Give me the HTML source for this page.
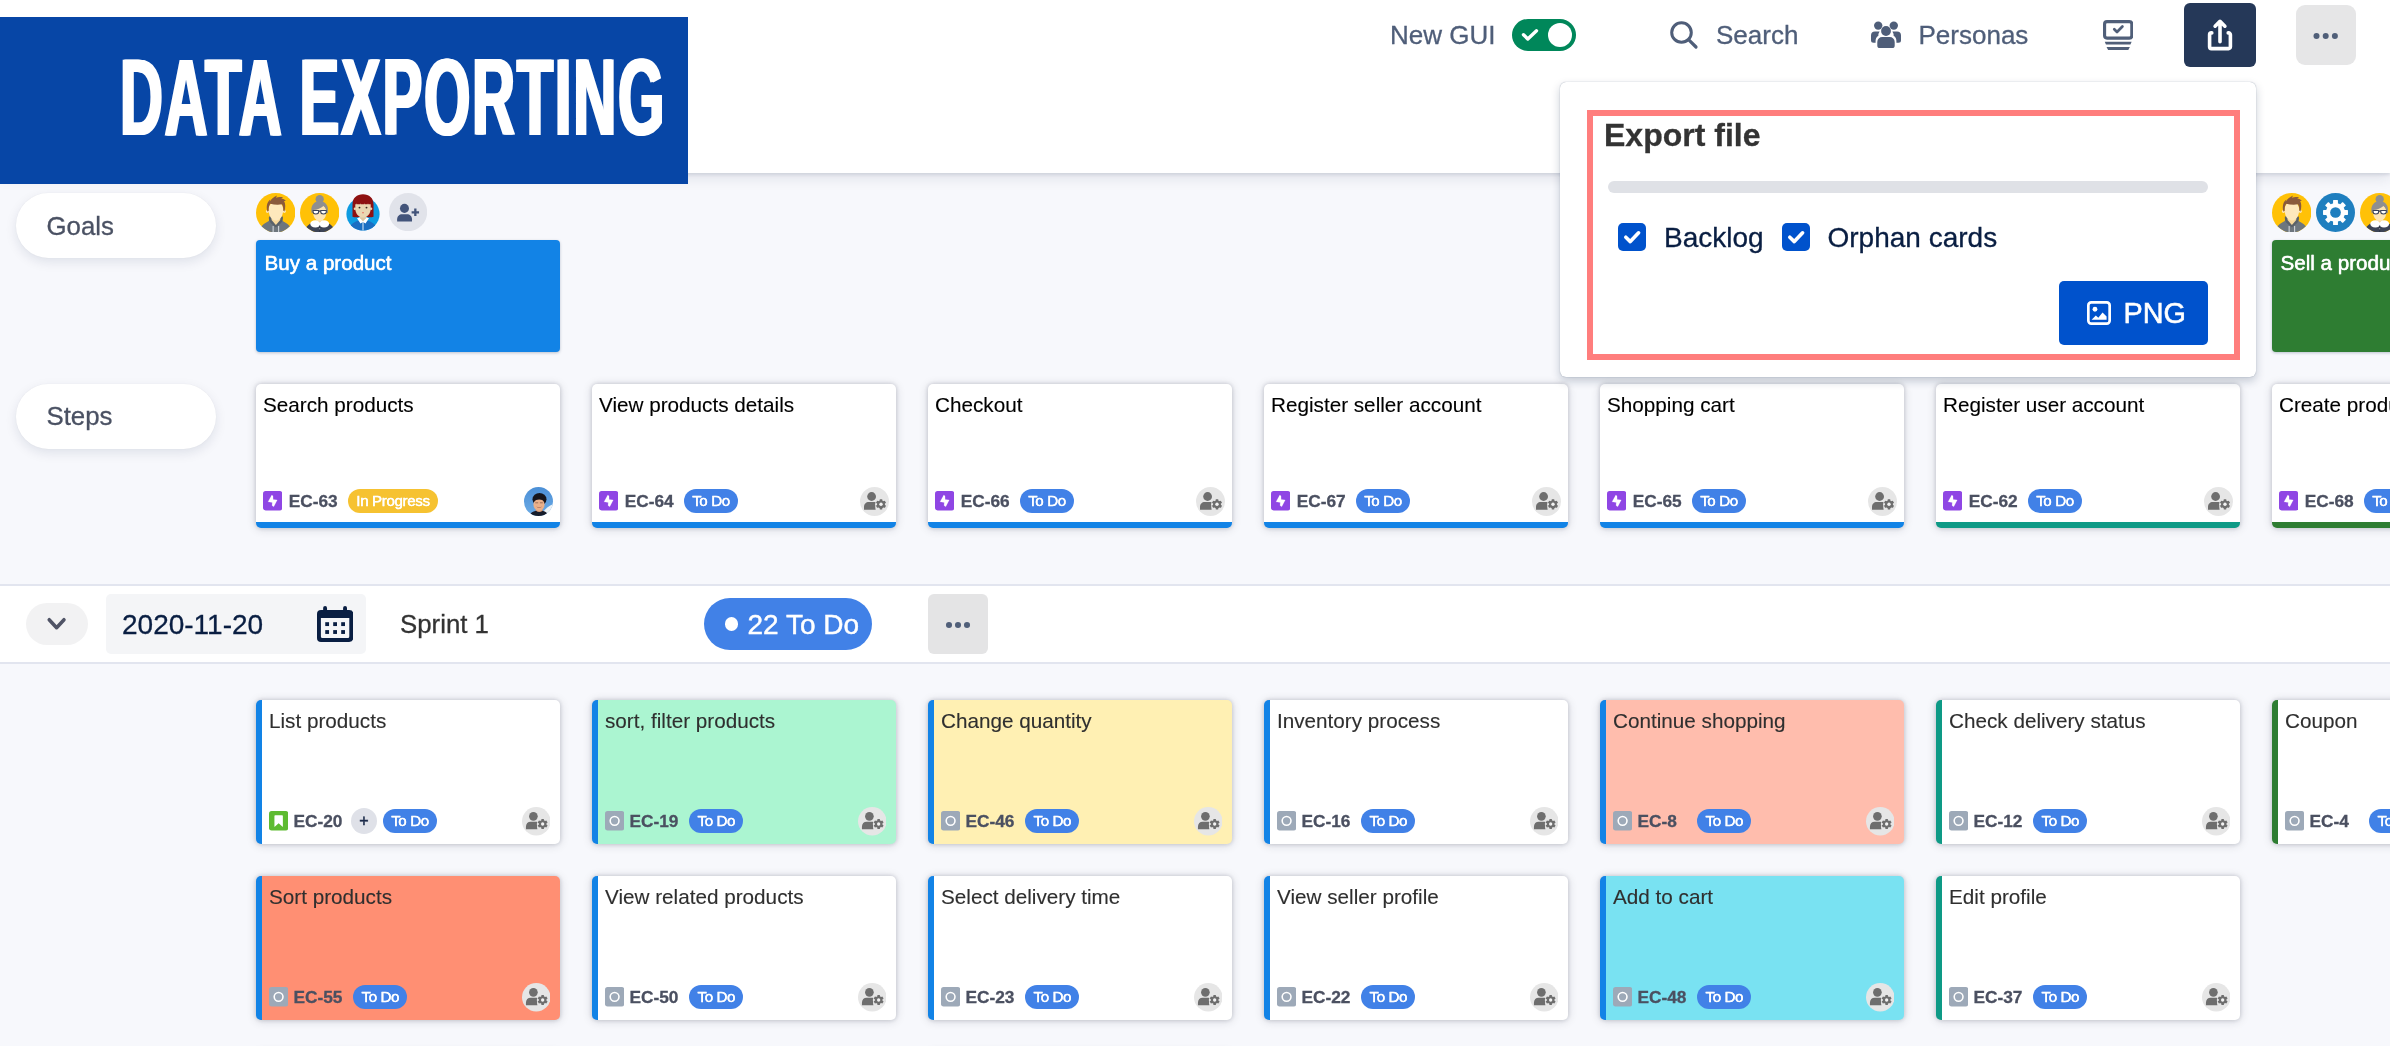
<!DOCTYPE html>
<html lang="en"><head><meta charset="utf-8"><title>Data Exporting</title>
<style>
*{box-sizing:border-box;margin:0;padding:0}
html,body{width:2390px;height:1046px;overflow:hidden}
body{position:relative;background:#F7F8FC;-webkit-font-smoothing:antialiased;-webkit-text-stroke:.3px;font-family:"Liberation Sans",sans-serif;color:#172B4D}
.abs{position:absolute;display:block}
/* header */
.hdr{position:absolute;left:0;top:0;width:2390px;height:173px;background:#fff;box-shadow:0 2px 3px rgba(9,30,66,.10),0 6px 12px rgba(9,30,66,.09)}
.banner{position:absolute;left:0;top:17px;width:687.5px;height:167px;background:#0746A6;overflow:hidden}
.banner span{position:absolute;left:120px;top:27px;font-weight:bold;font-size:108.500px;line-height:108.500px;color:#fff;white-space:nowrap;transform-origin:0 0;transform:scale(.5464,1);text-shadow:2.500px 0 0 #fff,-2.500px 0 0 #fff;letter-spacing:3.500px;-webkit-text-stroke:0}
.hx{position:absolute;font-size:26px;line-height:30px;color:#4F5E79;white-space:nowrap}
.toggle{position:absolute;left:1512px;top:19px;width:64px;height:32px;border-radius:16px;background:#00875A}
.toggle i{position:absolute;left:36px;top:4px;width:24px;height:24px;border-radius:50%;background:#fff}
.btn-share{position:absolute;left:2184px;top:3px;width:72px;height:64px;border-radius:6px;background:#253858}
.btn-more{position:absolute;left:2296px;top:5px;width:60px;height:60px;border-radius:9px;background:#E6E6E7}
/* popup */
.pop{position:absolute;left:1560px;top:82px;width:696px;height:295px;background:#fff;border-radius:6px;box-shadow:0 0 1px rgba(9,30,66,.45),0 4px 10px rgba(9,30,66,.22)}
.red{position:absolute;left:1587.200px;top:110.200px;width:652.800px;height:249.500px;border:6.400px solid #FF7E7D}
.pop-h{position:absolute;left:1604px;top:116.500px;font-size:32px;line-height:36px;font-weight:bold;color:#333}
.prog-bar{position:absolute;left:1607.5px;top:181px;width:600.5px;height:12px;border-radius:6px;background:#DFE1E6}
.cb{position:absolute;top:223px;width:28px;height:28px;border-radius:5px;background:#0052CC}
.cbl{position:absolute;top:222px;font-size:28px;line-height:32px;color:#091E42;white-space:nowrap}
.png{position:absolute;left:2059px;top:281px;width:149px;height:64px;border-radius:5px;background:#0052CC}
.png span{position:absolute;left:64.500px;top:15.500px;font-size:28.800px;line-height:32px;color:#fff;-webkit-text-stroke:.55px}
/* lanes */
.lane{position:absolute;left:16px;width:200px;height:65px;border-radius:33px;background:#fff;box-shadow:0 4px 12px rgba(9,30,66,.10),0 0 2px rgba(9,30,66,.06);font-size:25.800px;line-height:66px;padding-left:30.500px;color:#4A5163}
.goal{position:absolute;top:240px;width:304px;height:112px;border-radius:4px;color:#fff;font-size:20.600px;line-height:24px;padding:11px 0 0 8.500px;white-space:nowrap;overflow:hidden;box-shadow:0 1px 3px rgba(9,30,66,.25);text-shadow:0 0 .8px #fff;-webkit-text-stroke:.35px}
/* cards */
.card{position:absolute;width:304px;height:144px;border-radius:5px;background:#fff;box-shadow:0 0 4px rgba(30,35,55,.18),0 1px 10px rgba(30,35,55,.17)}
.card .t{position:absolute;top:9px;font-size:20.700px;line-height:24px;white-space:nowrap;-webkit-text-stroke:.12px}
.card .f{position:absolute;left:0;right:0;height:30px}
.step{top:384px;border-bottom:6px solid #1283E6}
.step .t{left:7px;color:#000}
.step .f{top:102px}
.story{border-left:6px solid #1283E6}
.story .t{left:7px;color:#2F2F2F}
.story .f{top:106px}
.ti{position:absolute;top:5.300px;width:19.300px;height:19.500px}
.step .ti{left:7px}
.story .ti{left:7px}
.k{position:absolute;top:4px;font-size:17.300px;line-height:22px;font-weight:bold;color:#4B5061;white-space:nowrap}
.step .k{left:32.700px}
.story .k{left:31.400px}
.pill{position:absolute;top:3px;height:24px;border-radius:12px;color:#fff;font-size:15.200px;line-height:23.600px;text-align:center;white-space:nowrap;text-shadow:0 0 .5px #fff;letter-spacing:-.4px}
.todo{background:#4181E7;width:54px}
.prog{background:#F6C231;width:90px}
.step .pill{left:92px}
.story .pill{left:91.300px}
.plus{position:absolute;left:88.900px;top:2px;width:26px;height:26px;border-radius:50%;background:#DFE1E8;color:#1C2B4A;font-size:16px;line-height:25.200px;text-align:center;-webkit-text-stroke:.5px}
.plus ~ .pill{left:121px}
.ua{position:absolute;width:29px;height:29px}
.step .ua{left:268px;top:.5px}
.story .ua{left:259.800px;top:1px;width:28.500px;height:28.500px}
/* sprint row */
.sprint{position:absolute;left:0;top:584px;width:2390px;height:80px;background:#fff;border-top:2px solid #E2E5EF;border-bottom:2px solid #E2E5EF}
.chev{position:absolute;left:26px;top:603px;width:62px;height:42px;border-radius:21px;background:#F2F2F3}
.date{position:absolute;left:106px;top:594px;width:260px;height:60px;border-radius:5px;background:#F4F5F7}
.date span{position:absolute;left:16px;top:15px;font-size:28px;line-height:32px;color:#091E42}
.sname{position:absolute;left:400px;top:608px;font-size:25.800px;line-height:32px;color:#333}
.cnt{position:absolute;left:704px;top:598px;width:168px;height:52px;border-radius:26px;background:#4181E7}
.cnt i{position:absolute;left:20.700px;top:19.300px;width:13.600px;height:13.600px;border-radius:50%;background:#fff}
.cnt span{position:absolute;left:43.500px;top:11px;-webkit-text-stroke:.45px;font-size:28px;line-height:32px;color:#fff;white-space:nowrap}
.smore{position:absolute;left:928px;top:594px;width:60px;height:60px;border-radius:6px;background:#E4E4E5}
#root{position:absolute;left:0;top:0;width:2390px;height:1046px;will-change:transform;overflow:hidden}
</style></head><body><div id="root">
<div class="lane" style="top:193px">Goals</div>
<div class="lane" style="top:384px;line-height:64px">Steps</div>
<svg class="abs" style="left:255.9px;top:192.7px" width="39.4" height="39.4" viewBox="0 0 40 40"><defs><clipPath id="cb1"><circle cx="20" cy="20" r="20"/></clipPath></defs><g clip-path="url(#cb1)"><rect width="40" height="40" fill="#FFC107"/><path d="M3 40c1-6 5-9 10-11.500l1.500-5.500h11l1.500 5.500c5 2.500 9 5.500 10 11.500z" fill="#6D767E"/><path d="M13.200 23.500c-.6 3 .3 5.500 2.300 7.500l4.700 4 4.700-4c2-2 2.900-4.500 2.300-7.500l-2.200 1.500-4.800 5.500-4.800-5.500z" fill="#596169"/><path d="M15.800 22h8.800v5.500l-4.400 5-4.400-5z" fill="#F8D99C"/><path d="M17.400 33.500v6.500M23 33.500v6.500" stroke="#E9ECEF" stroke-width=".9" fill="none"/><circle cx="11.600" cy="18.800" r="1.500" fill="#FDE7B8"/><circle cx="28.800" cy="18.800" r="1.500" fill="#FDE7B8"/><path d="M12.800 17c0-5 3-7.500 7.400-7.500s7.400 2.500 7.400 7.500c0 6.500-3.300 10.800-7.400 10.800S12.800 23.500 12.800 17z" fill="#FEE8BC"/><path d="M11.500 18.800c-1.300-5.600-.3-9.800 3-12.300L13.800 9c1.500-2.700 4-5 7.600-6.500l-1.200 2.300c2.500-.8 5-.8 7.300-.2l-2 1.100c2.200.2 3.700 1 4.800 2.300l-1.800.2c1.600 2.600 1.500 6.600.4 10.600-.6-.2-1-.5-1.200-1 .1-2.600-.3-4.700-1.400-6.300-3 .8-7.800.6-11.800-.6-1.300 1.800-1.800 4.200-1.600 7-.3.500-.7.800-1.400.9z" fill="#8A5A3C"/></g></svg><svg class="abs" style="left:300px;top:192.7px" width="39.4" height="39.4" viewBox="0 0 40 40"><defs><clipPath id="cg2"><circle cx="20" cy="20" r="20"/></clipPath></defs><g clip-path="url(#cg2)"><rect width="40" height="40" fill="#FFC107"/><path d="M4.500 40c1-6 5-9.300 11-10.700h9c6 1.400 10 4.700 11 10.700z" fill="#3D4455"/><path d="M16.800 24h6.400v5l-3.200 3.500-3.200-3.500z" fill="#F6D9A0"/><ellipse cx="15.600" cy="31.300" rx="5.200" ry="3.700" fill="#fff"/><ellipse cx="24.400" cy="31.300" rx="5.200" ry="3.700" fill="#fff"/><path d="M17.200 27.200l2.800 3 2.800-3v-1h-5.600z" fill="#F6D9A0"/><path d="M20 33v7" stroke="#2C3242" stroke-width="1" fill="none"/><circle cx="20" cy="36.300" r=".55" fill="#C9CDD6"/><path d="M13.300 19.500c0-5 2.700-7.800 6.700-7.800s6.700 2.800 6.700 7.800c0 5.200-3 8.700-6.700 8.700s-6.700-3.500-6.700-8.700z" fill="#FCE4B4"/><circle cx="20" cy="6.300" r="4.200" fill="#8F8F8F"/><path d="M11.800 20.500C10.500 13 14 8.500 20 8.500s9.500 4.500 8.200 12c-.5-.2-.8-.4-1.100-.8-.2-2.800-1.300-5-3.300-6.600-2.500 2.400-6.200 3.900-10.600 4.200-.2.800-.3 1.600-.3 2.500-.3.400-.6.600-1.100.7z" fill="#8F8F8F"/><g fill="#fff" stroke="#39425A" stroke-width="1.100"><path d="M13.300 17.700h5.600v1.600c0 1.300-1 2-2.800 2s-2.800-.7-2.800-2z"/><path d="M21.100 17.700h5.600v1.600c0 1.300-1 2-2.800 2s-2.800-.7-2.800-2z"/><path d="M18.900 18.400h2.200" fill="none"/></g></g></svg><svg class="abs" style="left:344.9px;top:194px" width="36" height="38" viewBox="0 0 36 38"><defs><clipPath id="cw3"><circle cx="18" cy="20" r="16.600"/></clipPath></defs><circle cx="18" cy="20" r="16.600" fill="#0D9BE1"/><path d="M7.500 22.800V10.500C7.500 4 11.800.3 18 .3S28.500 4 28.500 10.500v12.300c-2 .6-4.300.7-6.500.2h-8c-2.200.5-4.500.4-6.500-.2z" fill="#8E1111"/><g clip-path="url(#cw3)"><path d="M3 38c.5-5.500 4-9.300 9.800-11.300h10.400C29 28.700 32.500 32.500 33 38z" fill="#1B6EC2"/><path d="M12 24.300l2.800-1h6.400l2.800 1-3.500 5.200-2.500-1.600-2.500 1.600z" fill="#fff"/><path d="M18 28v10" stroke="#fff" stroke-width=".9" fill="none"/></g><path d="M15.200 21h5.600v3.300L18 27.600l-2.800-3.300z" fill="#DCC6A0"/><circle cx="9.900" cy="14.800" r="1.200" fill="#EAD7B2"/><circle cx="26.100" cy="14.800" r="1.200" fill="#EAD7B2"/><path d="M10.300 9h15.400v5.500c0 5.200-3.400 9.100-7.700 9.100s-7.700-3.900-7.700-9.100z" fill="#EAD7B2"/><path d="M9.600 10.200V7h16.800v3.200h-3.100l-.3-1-.3 1h-3.100l-.3-1-.3 1h-3.100l-.3-1-.3 1h-3.100l-.3-1-.3 1z" fill="#8E1111"/><circle cx="14.500" cy="13.600" r=".95" fill="#3A2A22"/><circle cx="21.500" cy="13.600" r=".95" fill="#3A2A22"/><path d="M17 18.300h2l-1 1.500z" fill="#E2574C"/></svg><svg class="abs" style="left:389px;top:193px" width="38.2" height="38.2" viewBox="0 0 38 38"><circle cx="19" cy="19" r="19" fill="#E1E3EA"/><circle cx="15.400" cy="15.300" r="4.500" fill="#43547A"/><path d="M8.100 28.400v-2.200c0-3 2.200-5 5-5h4.800c2.800 0 5 2 5 5v2.200z" fill="#43547A"/><path d="M26.200 15.500v7.400M22.500 19.200h7.400" stroke="#43547A" stroke-width="2.300" fill="none"/></svg><svg class="abs" style="left:2272px;top:192.7px" width="39.4" height="39.4" viewBox="0 0 40 40"><defs><clipPath id="cb4"><circle cx="20" cy="20" r="20"/></clipPath></defs><g clip-path="url(#cb4)"><rect width="40" height="40" fill="#FFC107"/><path d="M3 40c1-6 5-9 10-11.500l1.500-5.500h11l1.500 5.500c5 2.500 9 5.500 10 11.500z" fill="#6D767E"/><path d="M13.200 23.500c-.6 3 .3 5.500 2.300 7.500l4.700 4 4.700-4c2-2 2.900-4.500 2.300-7.500l-2.200 1.500-4.800 5.500-4.800-5.500z" fill="#596169"/><path d="M15.800 22h8.800v5.500l-4.400 5-4.400-5z" fill="#F8D99C"/><path d="M17.400 33.500v6.500M23 33.500v6.500" stroke="#E9ECEF" stroke-width=".9" fill="none"/><circle cx="11.600" cy="18.800" r="1.500" fill="#FDE7B8"/><circle cx="28.800" cy="18.800" r="1.500" fill="#FDE7B8"/><path d="M12.800 17c0-5 3-7.500 7.400-7.500s7.400 2.500 7.400 7.500c0 6.500-3.300 10.800-7.400 10.800S12.800 23.500 12.800 17z" fill="#FEE8BC"/><path d="M11.500 18.800c-1.300-5.600-.3-9.800 3-12.300L13.800 9c1.500-2.700 4-5 7.600-6.500l-1.200 2.300c2.500-.8 5-.8 7.300-.2l-2 1.100c2.200.2 3.700 1 4.800 2.300l-1.800.2c1.600 2.600 1.500 6.600.4 10.600-.6-.2-1-.5-1.200-1 .1-2.600-.3-4.700-1.400-6.300-3 .8-7.800.6-11.800-.6-1.300 1.800-1.800 4.200-1.600 7-.3.500-.7.800-1.400.9z" fill="#8A5A3C"/></g></svg><svg class="abs" style="left:2316px;top:192.8px" width="39" height="39" viewBox="0 0 40 40"><circle cx="20" cy="20" r="20" fill="#1F7FBF"/><g transform="translate(20 20)" fill="#fff"><rect x="-2.500" y="-12.800" width="5" height="6" rx=".6" transform="rotate(0)"/><rect x="-2.500" y="-12.800" width="5" height="6" rx=".6" transform="rotate(45)"/><rect x="-2.500" y="-12.800" width="5" height="6" rx=".6" transform="rotate(90)"/><rect x="-2.500" y="-12.800" width="5" height="6" rx=".6" transform="rotate(135)"/><rect x="-2.500" y="-12.800" width="5" height="6" rx=".6" transform="rotate(180)"/><rect x="-2.500" y="-12.800" width="5" height="6" rx=".6" transform="rotate(225)"/><rect x="-2.500" y="-12.800" width="5" height="6" rx=".6" transform="rotate(270)"/><rect x="-2.500" y="-12.800" width="5" height="6" rx=".6" transform="rotate(315)"/><circle r="9.800"/><circle r="5.500" fill="#1F7FBF"/></g></svg><svg class="abs" style="left:2360.2px;top:192.7px" width="39.4" height="39.4" viewBox="0 0 40 40"><defs><clipPath id="cg5"><circle cx="20" cy="20" r="20"/></clipPath></defs><g clip-path="url(#cg5)"><rect width="40" height="40" fill="#FFC107"/><path d="M4.500 40c1-6 5-9.300 11-10.700h9c6 1.400 10 4.700 11 10.700z" fill="#3D4455"/><path d="M16.800 24h6.400v5l-3.200 3.500-3.200-3.500z" fill="#F6D9A0"/><ellipse cx="15.600" cy="31.300" rx="5.200" ry="3.700" fill="#fff"/><ellipse cx="24.400" cy="31.300" rx="5.200" ry="3.700" fill="#fff"/><path d="M17.200 27.200l2.800 3 2.800-3v-1h-5.600z" fill="#F6D9A0"/><path d="M20 33v7" stroke="#2C3242" stroke-width="1" fill="none"/><circle cx="20" cy="36.300" r=".55" fill="#C9CDD6"/><path d="M13.300 19.500c0-5 2.700-7.800 6.700-7.800s6.700 2.800 6.700 7.800c0 5.200-3 8.700-6.700 8.700s-6.700-3.500-6.700-8.700z" fill="#FCE4B4"/><circle cx="20" cy="6.300" r="4.200" fill="#8F8F8F"/><path d="M11.800 20.500C10.500 13 14 8.500 20 8.500s9.500 4.500 8.200 12c-.5-.2-.8-.4-1.100-.8-.2-2.800-1.300-5-3.300-6.600-2.500 2.400-6.200 3.900-10.600 4.200-.2.800-.3 1.600-.3 2.500-.3.400-.6.600-1.100.7z" fill="#8F8F8F"/><g fill="#fff" stroke="#39425A" stroke-width="1.100"><path d="M13.300 17.700h5.600v1.600c0 1.300-1 2-2.800 2s-2.800-.7-2.800-2z"/><path d="M21.100 17.700h5.600v1.600c0 1.300-1 2-2.800 2s-2.800-.7-2.800-2z"/><path d="M18.900 18.400h2.200" fill="none"/></g></g></svg><div class="goal" style="left:256px;background:#1283E6">Buy a product</div>
<div class="goal" style="left:2272px;background:#2E7D32">Sell a product</div>
<div class="card step" style="left:256px;border-bottom-color:#1283E6"><div class="t">Search products</div><div class="f"><svg class="ti" viewBox="0 0 16 16"><rect width="16" height="16" rx="2.2" fill="#8F46E4"/><path d="M7.300 3.200 4.200 8.900 7.700 9.400 7.500 12 8.900 13 11.800 7.400 8.400 6.900 8.300 4z" fill="#fff" stroke="#fff" stroke-width=".15" stroke-linejoin="round"/></svg><span class="k">EC-63</span><span class="pill prog">In Progress</span><svg class="ua" viewBox="0 0 29 29"><defs><clipPath id="pc"><circle cx="14.500" cy="14.500" r="14.500"/></clipPath><linearGradient id="sky" x1="0" y1="0" x2="0" y2="1"><stop offset="0" stop-color="#4B8FD6"/><stop offset="1" stop-color="#6CACE6"/></linearGradient><filter id="pb" x="-10%%" y="-10%%" width="120%%" height="120%%"><feGaussianBlur stdDeviation=".7"/></filter></defs><g clip-path="url(#pc)"><rect width="29" height="29" fill="url(#sky)"/><g filter="url(#pb)"><path d="M18.500 26c2.500-4.500 6.500-7 11-9v12h-11z" fill="#EEF3F5"/><ellipse cx="15.500" cy="12.200" rx="7" ry="6.300" fill="#17171F"/><path d="M12.300 21h5.800l1.200 5h-8.200z" fill="#D79B74"/><ellipse cx="15" cy="17.600" rx="5.600" ry="6.300" fill="#E9B08A"/><path d="M9.600 15c.5-3.500 2.700-4.500 5.600-4.300 2.900-.2 5 .9 5.500 4.300-1.500-1.900-3.300-2.600-5.500-2.600s-4.100.7-5.600 2.600z" fill="#17171F"/><path d="M11.300 15.800h2.900M15.900 15.800h2.900" stroke="#6A4535" stroke-width="1" opacity=".6"/><path d="M12.500 19.600c1.700 1.300 3.600 1.300 5.300 0-.7 1.900-4.600 1.900-5.300 0z" fill="#8A4A3C"/><path d="M5.500 29c.7-3 3-4.600 6.500-5.200 2 1.700 4.500 1.700 6.500 0 3.500.6 5 2.200 5.500 5.200z" fill="#191A2A"/></g></g></svg></div></div>
<div class="card step" style="left:592px;border-bottom-color:#1283E6"><div class="t">View products details</div><div class="f"><svg class="ti" viewBox="0 0 16 16"><rect width="16" height="16" rx="2.2" fill="#8F46E4"/><path d="M7.300 3.200 4.200 8.900 7.700 9.400 7.500 12 8.900 13 11.800 7.400 8.400 6.900 8.300 4z" fill="#fff" stroke="#fff" stroke-width=".15" stroke-linejoin="round"/></svg><span class="k">EC-64</span><span class="pill todo">To Do</span><svg class="ua" viewBox="0 0 29 29"><circle cx="14.500" cy="14.500" r="14.500" fill="#E6E6E6"/><circle cx="11.600" cy="9.500" r="4.400" fill="#6E6E6E"/><path d="M4 22.700v-2.600c0-3 2-5 4.800-5h5.800c1.200 0 2.200.3 3 .9-2 1.500-2.900 4.200-1.900 6.700z" fill="#6E6E6E"/><g transform="translate(21 17.300)"><circle r="5.900" fill="#E6E6E6"/><g fill="#6E6E6E"><rect x="-1.300" y="-5.100" width="2.600" height="2.600" rx=".3" transform="rotate(0)"/><rect x="-1.300" y="-5.100" width="2.600" height="2.600" rx=".3" transform="rotate(60)"/><rect x="-1.300" y="-5.100" width="2.600" height="2.600" rx=".3" transform="rotate(120)"/><rect x="-1.300" y="-5.100" width="2.600" height="2.600" rx=".3" transform="rotate(180)"/><rect x="-1.300" y="-5.100" width="2.600" height="2.600" rx=".3" transform="rotate(240)"/><rect x="-1.300" y="-5.100" width="2.600" height="2.600" rx=".3" transform="rotate(300)"/><circle r="3.900"/></g><circle r="1.700" fill="#F2F2F2"/></g></svg></div></div>
<div class="card step" style="left:928px;border-bottom-color:#1283E6"><div class="t">Checkout</div><div class="f"><svg class="ti" viewBox="0 0 16 16"><rect width="16" height="16" rx="2.2" fill="#8F46E4"/><path d="M7.300 3.200 4.200 8.900 7.700 9.400 7.500 12 8.900 13 11.800 7.400 8.400 6.900 8.300 4z" fill="#fff" stroke="#fff" stroke-width=".15" stroke-linejoin="round"/></svg><span class="k">EC-66</span><span class="pill todo">To Do</span><svg class="ua" viewBox="0 0 29 29"><circle cx="14.500" cy="14.500" r="14.500" fill="#E6E6E6"/><circle cx="11.600" cy="9.500" r="4.400" fill="#6E6E6E"/><path d="M4 22.700v-2.600c0-3 2-5 4.800-5h5.800c1.200 0 2.200.3 3 .9-2 1.500-2.900 4.200-1.900 6.700z" fill="#6E6E6E"/><g transform="translate(21 17.300)"><circle r="5.900" fill="#E6E6E6"/><g fill="#6E6E6E"><rect x="-1.300" y="-5.100" width="2.600" height="2.600" rx=".3" transform="rotate(0)"/><rect x="-1.300" y="-5.100" width="2.600" height="2.600" rx=".3" transform="rotate(60)"/><rect x="-1.300" y="-5.100" width="2.600" height="2.600" rx=".3" transform="rotate(120)"/><rect x="-1.300" y="-5.100" width="2.600" height="2.600" rx=".3" transform="rotate(180)"/><rect x="-1.300" y="-5.100" width="2.600" height="2.600" rx=".3" transform="rotate(240)"/><rect x="-1.300" y="-5.100" width="2.600" height="2.600" rx=".3" transform="rotate(300)"/><circle r="3.900"/></g><circle r="1.700" fill="#F2F2F2"/></g></svg></div></div>
<div class="card step" style="left:1264px;border-bottom-color:#1283E6"><div class="t">Register seller account</div><div class="f"><svg class="ti" viewBox="0 0 16 16"><rect width="16" height="16" rx="2.2" fill="#8F46E4"/><path d="M7.300 3.200 4.200 8.900 7.700 9.400 7.500 12 8.900 13 11.800 7.400 8.400 6.900 8.300 4z" fill="#fff" stroke="#fff" stroke-width=".15" stroke-linejoin="round"/></svg><span class="k">EC-67</span><span class="pill todo">To Do</span><svg class="ua" viewBox="0 0 29 29"><circle cx="14.500" cy="14.500" r="14.500" fill="#E6E6E6"/><circle cx="11.600" cy="9.500" r="4.400" fill="#6E6E6E"/><path d="M4 22.700v-2.600c0-3 2-5 4.800-5h5.800c1.200 0 2.200.3 3 .9-2 1.500-2.900 4.200-1.900 6.700z" fill="#6E6E6E"/><g transform="translate(21 17.300)"><circle r="5.900" fill="#E6E6E6"/><g fill="#6E6E6E"><rect x="-1.300" y="-5.100" width="2.600" height="2.600" rx=".3" transform="rotate(0)"/><rect x="-1.300" y="-5.100" width="2.600" height="2.600" rx=".3" transform="rotate(60)"/><rect x="-1.300" y="-5.100" width="2.600" height="2.600" rx=".3" transform="rotate(120)"/><rect x="-1.300" y="-5.100" width="2.600" height="2.600" rx=".3" transform="rotate(180)"/><rect x="-1.300" y="-5.100" width="2.600" height="2.600" rx=".3" transform="rotate(240)"/><rect x="-1.300" y="-5.100" width="2.600" height="2.600" rx=".3" transform="rotate(300)"/><circle r="3.900"/></g><circle r="1.700" fill="#F2F2F2"/></g></svg></div></div>
<div class="card step" style="left:1600px;border-bottom-color:#1283E6"><div class="t">Shopping cart</div><div class="f"><svg class="ti" viewBox="0 0 16 16"><rect width="16" height="16" rx="2.2" fill="#8F46E4"/><path d="M7.300 3.200 4.200 8.900 7.700 9.400 7.500 12 8.900 13 11.800 7.400 8.400 6.900 8.300 4z" fill="#fff" stroke="#fff" stroke-width=".15" stroke-linejoin="round"/></svg><span class="k">EC-65</span><span class="pill todo">To Do</span><svg class="ua" viewBox="0 0 29 29"><circle cx="14.500" cy="14.500" r="14.500" fill="#E6E6E6"/><circle cx="11.600" cy="9.500" r="4.400" fill="#6E6E6E"/><path d="M4 22.700v-2.600c0-3 2-5 4.800-5h5.800c1.200 0 2.200.3 3 .9-2 1.500-2.900 4.200-1.900 6.700z" fill="#6E6E6E"/><g transform="translate(21 17.300)"><circle r="5.900" fill="#E6E6E6"/><g fill="#6E6E6E"><rect x="-1.300" y="-5.100" width="2.600" height="2.600" rx=".3" transform="rotate(0)"/><rect x="-1.300" y="-5.100" width="2.600" height="2.600" rx=".3" transform="rotate(60)"/><rect x="-1.300" y="-5.100" width="2.600" height="2.600" rx=".3" transform="rotate(120)"/><rect x="-1.300" y="-5.100" width="2.600" height="2.600" rx=".3" transform="rotate(180)"/><rect x="-1.300" y="-5.100" width="2.600" height="2.600" rx=".3" transform="rotate(240)"/><rect x="-1.300" y="-5.100" width="2.600" height="2.600" rx=".3" transform="rotate(300)"/><circle r="3.900"/></g><circle r="1.700" fill="#F2F2F2"/></g></svg></div></div>
<div class="card step" style="left:1936px;border-bottom-color:#0E9A86"><div class="t">Register user account</div><div class="f"><svg class="ti" viewBox="0 0 16 16"><rect width="16" height="16" rx="2.2" fill="#8F46E4"/><path d="M7.300 3.200 4.200 8.900 7.700 9.400 7.500 12 8.900 13 11.800 7.400 8.400 6.900 8.300 4z" fill="#fff" stroke="#fff" stroke-width=".15" stroke-linejoin="round"/></svg><span class="k">EC-62</span><span class="pill todo">To Do</span><svg class="ua" viewBox="0 0 29 29"><circle cx="14.500" cy="14.500" r="14.500" fill="#E6E6E6"/><circle cx="11.600" cy="9.500" r="4.400" fill="#6E6E6E"/><path d="M4 22.700v-2.600c0-3 2-5 4.800-5h5.800c1.200 0 2.200.3 3 .9-2 1.500-2.900 4.200-1.900 6.700z" fill="#6E6E6E"/><g transform="translate(21 17.300)"><circle r="5.900" fill="#E6E6E6"/><g fill="#6E6E6E"><rect x="-1.300" y="-5.100" width="2.600" height="2.600" rx=".3" transform="rotate(0)"/><rect x="-1.300" y="-5.100" width="2.600" height="2.600" rx=".3" transform="rotate(60)"/><rect x="-1.300" y="-5.100" width="2.600" height="2.600" rx=".3" transform="rotate(120)"/><rect x="-1.300" y="-5.100" width="2.600" height="2.600" rx=".3" transform="rotate(180)"/><rect x="-1.300" y="-5.100" width="2.600" height="2.600" rx=".3" transform="rotate(240)"/><rect x="-1.300" y="-5.100" width="2.600" height="2.600" rx=".3" transform="rotate(300)"/><circle r="3.900"/></g><circle r="1.700" fill="#F2F2F2"/></g></svg></div></div>
<div class="card step" style="left:2272px;border-bottom-color:#2E7D32"><div class="t">Create product</div><div class="f"><svg class="ti" viewBox="0 0 16 16"><rect width="16" height="16" rx="2.2" fill="#8F46E4"/><path d="M7.300 3.200 4.200 8.900 7.700 9.400 7.500 12 8.900 13 11.800 7.400 8.400 6.900 8.300 4z" fill="#fff" stroke="#fff" stroke-width=".15" stroke-linejoin="round"/></svg><span class="k">EC-68</span><span class="pill todo">To Do</span><svg class="ua" viewBox="0 0 29 29"><circle cx="14.500" cy="14.500" r="14.500" fill="#E6E6E6"/><circle cx="11.600" cy="9.500" r="4.400" fill="#6E6E6E"/><path d="M4 22.700v-2.600c0-3 2-5 4.800-5h5.800c1.200 0 2.200.3 3 .9-2 1.500-2.900 4.200-1.900 6.700z" fill="#6E6E6E"/><g transform="translate(21 17.300)"><circle r="5.900" fill="#E6E6E6"/><g fill="#6E6E6E"><rect x="-1.300" y="-5.100" width="2.600" height="2.600" rx=".3" transform="rotate(0)"/><rect x="-1.300" y="-5.100" width="2.600" height="2.600" rx=".3" transform="rotate(60)"/><rect x="-1.300" y="-5.100" width="2.600" height="2.600" rx=".3" transform="rotate(120)"/><rect x="-1.300" y="-5.100" width="2.600" height="2.600" rx=".3" transform="rotate(180)"/><rect x="-1.300" y="-5.100" width="2.600" height="2.600" rx=".3" transform="rotate(240)"/><rect x="-1.300" y="-5.100" width="2.600" height="2.600" rx=".3" transform="rotate(300)"/><circle r="3.900"/></g><circle r="1.700" fill="#F2F2F2"/></g></svg></div></div>
<div class="sprint"></div>
<div class="chev"><svg class="abs" style="left:20px;top:13px" width="22" height="16" viewBox="0 0 22 16"><path d="M3.200 3.700 10.600 11.700 18 3.700" fill="none" stroke="#505466" stroke-width="3.500" stroke-linecap="round" stroke-linejoin="round"/></svg></div>
<div class="date"><span>2020-11-20</span>
<svg class="abs" style="left:210.900px;top:12px" width="36.200" height="36" viewBox="0 0 36.200 36"><g fill="#091E42"><rect x="6.150" y="0" width="3.900" height="8" rx="1.950"/><rect x="26.100" y="0" width="3.900" height="8" rx="1.950"/><rect x="0" y="3.900" width="36.200" height="32.100" rx="4"/></g><path d="M3.900 11.900H32.300V30.600a1.500 1.500 0 0 1-1.500 1.500H5.400a1.500 1.500 0 0 1-1.500-1.500z" fill="#F4F5F7"/><g fill="#091E42"><rect x="8.250" y="16.200" width="3.800" height="3.850"/><rect x="16.200" y="16.200" width="3.800" height="3.850"/><rect x="24.200" y="16.200" width="3.800" height="3.850"/><rect x="8.250" y="24.100" width="3.800" height="3.850"/><rect x="16.200" y="24.100" width="3.800" height="3.850"/><rect x="24.200" y="24.100" width="3.800" height="3.850"/></g></svg></div>
<div class="sname">Sprint 1</div>
<div class="cnt"><i></i><span>22 To Do</span></div>
<div class="smore"><svg class="abs" style="left:17px;top:27px" width="26" height="8" viewBox="0 0 26 8"><circle cx="4" cy="4" r="3.050" fill="#505F79"/><circle cx="13" cy="4" r="3.050" fill="#505F79"/><circle cx="22" cy="4" r="3.050" fill="#505F79"/></svg></div>
<div class="card story" style="left:256px;top:700px;background:#fff;border-left-color:#1283E6"><div class="t">List products</div><div class="f"><svg class="ti" viewBox="0 0 16 16"><rect width="16" height="16" rx="2.2" fill="#5EBB31"/><path d="M5.100 3.500h5.800a.6.6 0 0 1 .6.6v9L8 10.100l-3.500 3V4.100a.6.600 0 0 1 .6-.6z" fill="#fff"/></svg><span class="k">EC-20</span><span class="plus">+</span><span class="pill todo">To Do</span><svg class="ua" viewBox="0 0 29 29"><circle cx="14.500" cy="14.500" r="14.500" fill="#E6E6E6"/><circle cx="11.600" cy="9.500" r="4.400" fill="#6E6E6E"/><path d="M4 22.700v-2.600c0-3 2-5 4.800-5h5.800c1.200 0 2.200.3 3 .9-2 1.500-2.900 4.200-1.900 6.700z" fill="#6E6E6E"/><g transform="translate(21 17.300)"><circle r="5.900" fill="#E6E6E6"/><g fill="#6E6E6E"><rect x="-1.300" y="-5.100" width="2.600" height="2.600" rx=".3" transform="rotate(0)"/><rect x="-1.300" y="-5.100" width="2.600" height="2.600" rx=".3" transform="rotate(60)"/><rect x="-1.300" y="-5.100" width="2.600" height="2.600" rx=".3" transform="rotate(120)"/><rect x="-1.300" y="-5.100" width="2.600" height="2.600" rx=".3" transform="rotate(180)"/><rect x="-1.300" y="-5.100" width="2.600" height="2.600" rx=".3" transform="rotate(240)"/><rect x="-1.300" y="-5.100" width="2.600" height="2.600" rx=".3" transform="rotate(300)"/><circle r="3.900"/></g><circle r="1.700" fill="#F2F2F2"/></g></svg></div></div>
<div class="card story" style="left:592px;top:700px;background:#ABF5D1;border-left-color:#1283E6"><div class="t">sort, filter products</div><div class="f"><svg class="ti" viewBox="0 0 16 16"><rect width="16" height="16" rx="2.2" fill="#9DA9B8"/><circle cx="7.950" cy="8.100" r="3.650" fill="none" stroke="#fff" stroke-width="1.300"/></svg><span class="k">EC-19</span><span class="pill todo">To Do</span><svg class="ua" viewBox="0 0 29 29"><circle cx="14.500" cy="14.500" r="14.500" fill="#E6E6E6"/><circle cx="11.600" cy="9.500" r="4.400" fill="#6E6E6E"/><path d="M4 22.700v-2.600c0-3 2-5 4.800-5h5.800c1.200 0 2.200.3 3 .9-2 1.500-2.900 4.200-1.900 6.700z" fill="#6E6E6E"/><g transform="translate(21 17.300)"><circle r="5.900" fill="#E6E6E6"/><g fill="#6E6E6E"><rect x="-1.300" y="-5.100" width="2.600" height="2.600" rx=".3" transform="rotate(0)"/><rect x="-1.300" y="-5.100" width="2.600" height="2.600" rx=".3" transform="rotate(60)"/><rect x="-1.300" y="-5.100" width="2.600" height="2.600" rx=".3" transform="rotate(120)"/><rect x="-1.300" y="-5.100" width="2.600" height="2.600" rx=".3" transform="rotate(180)"/><rect x="-1.300" y="-5.100" width="2.600" height="2.600" rx=".3" transform="rotate(240)"/><rect x="-1.300" y="-5.100" width="2.600" height="2.600" rx=".3" transform="rotate(300)"/><circle r="3.900"/></g><circle r="1.700" fill="#F2F2F2"/></g></svg></div></div>
<div class="card story" style="left:928px;top:700px;background:#FFF0B3;border-left-color:#1283E6"><div class="t">Change quantity</div><div class="f"><svg class="ti" viewBox="0 0 16 16"><rect width="16" height="16" rx="2.2" fill="#9DA9B8"/><circle cx="7.950" cy="8.100" r="3.650" fill="none" stroke="#fff" stroke-width="1.300"/></svg><span class="k">EC-46</span><span class="pill todo">To Do</span><svg class="ua" viewBox="0 0 29 29"><circle cx="14.500" cy="14.500" r="14.500" fill="#E6E6E6"/><circle cx="11.600" cy="9.500" r="4.400" fill="#6E6E6E"/><path d="M4 22.700v-2.600c0-3 2-5 4.800-5h5.800c1.200 0 2.200.3 3 .9-2 1.500-2.900 4.200-1.900 6.700z" fill="#6E6E6E"/><g transform="translate(21 17.300)"><circle r="5.900" fill="#E6E6E6"/><g fill="#6E6E6E"><rect x="-1.300" y="-5.100" width="2.600" height="2.600" rx=".3" transform="rotate(0)"/><rect x="-1.300" y="-5.100" width="2.600" height="2.600" rx=".3" transform="rotate(60)"/><rect x="-1.300" y="-5.100" width="2.600" height="2.600" rx=".3" transform="rotate(120)"/><rect x="-1.300" y="-5.100" width="2.600" height="2.600" rx=".3" transform="rotate(180)"/><rect x="-1.300" y="-5.100" width="2.600" height="2.600" rx=".3" transform="rotate(240)"/><rect x="-1.300" y="-5.100" width="2.600" height="2.600" rx=".3" transform="rotate(300)"/><circle r="3.900"/></g><circle r="1.700" fill="#F2F2F2"/></g></svg></div></div>
<div class="card story" style="left:1264px;top:700px;background:#fff;border-left-color:#1283E6"><div class="t">Inventory process</div><div class="f"><svg class="ti" viewBox="0 0 16 16"><rect width="16" height="16" rx="2.2" fill="#9DA9B8"/><circle cx="7.950" cy="8.100" r="3.650" fill="none" stroke="#fff" stroke-width="1.300"/></svg><span class="k">EC-16</span><span class="pill todo">To Do</span><svg class="ua" viewBox="0 0 29 29"><circle cx="14.500" cy="14.500" r="14.500" fill="#E6E6E6"/><circle cx="11.600" cy="9.500" r="4.400" fill="#6E6E6E"/><path d="M4 22.700v-2.600c0-3 2-5 4.800-5h5.800c1.200 0 2.200.3 3 .9-2 1.500-2.900 4.200-1.900 6.700z" fill="#6E6E6E"/><g transform="translate(21 17.300)"><circle r="5.900" fill="#E6E6E6"/><g fill="#6E6E6E"><rect x="-1.300" y="-5.100" width="2.600" height="2.600" rx=".3" transform="rotate(0)"/><rect x="-1.300" y="-5.100" width="2.600" height="2.600" rx=".3" transform="rotate(60)"/><rect x="-1.300" y="-5.100" width="2.600" height="2.600" rx=".3" transform="rotate(120)"/><rect x="-1.300" y="-5.100" width="2.600" height="2.600" rx=".3" transform="rotate(180)"/><rect x="-1.300" y="-5.100" width="2.600" height="2.600" rx=".3" transform="rotate(240)"/><rect x="-1.300" y="-5.100" width="2.600" height="2.600" rx=".3" transform="rotate(300)"/><circle r="3.900"/></g><circle r="1.700" fill="#F2F2F2"/></g></svg></div></div>
<div class="card story" style="left:1600px;top:700px;background:#FFBDAD;border-left-color:#1283E6"><div class="t">Continue shopping</div><div class="f"><svg class="ti" viewBox="0 0 16 16"><rect width="16" height="16" rx="2.2" fill="#9DA9B8"/><circle cx="7.950" cy="8.100" r="3.650" fill="none" stroke="#fff" stroke-width="1.300"/></svg><span class="k">EC-8</span><span class="pill todo">To Do</span><svg class="ua" viewBox="0 0 29 29"><circle cx="14.500" cy="14.500" r="14.500" fill="#E6E6E6"/><circle cx="11.600" cy="9.500" r="4.400" fill="#6E6E6E"/><path d="M4 22.700v-2.600c0-3 2-5 4.800-5h5.800c1.200 0 2.200.3 3 .9-2 1.500-2.900 4.200-1.900 6.700z" fill="#6E6E6E"/><g transform="translate(21 17.300)"><circle r="5.900" fill="#E6E6E6"/><g fill="#6E6E6E"><rect x="-1.300" y="-5.100" width="2.600" height="2.600" rx=".3" transform="rotate(0)"/><rect x="-1.300" y="-5.100" width="2.600" height="2.600" rx=".3" transform="rotate(60)"/><rect x="-1.300" y="-5.100" width="2.600" height="2.600" rx=".3" transform="rotate(120)"/><rect x="-1.300" y="-5.100" width="2.600" height="2.600" rx=".3" transform="rotate(180)"/><rect x="-1.300" y="-5.100" width="2.600" height="2.600" rx=".3" transform="rotate(240)"/><rect x="-1.300" y="-5.100" width="2.600" height="2.600" rx=".3" transform="rotate(300)"/><circle r="3.900"/></g><circle r="1.700" fill="#F2F2F2"/></g></svg></div></div>
<div class="card story" style="left:1936px;top:700px;background:#fff;border-left-color:#0E9A86"><div class="t">Check delivery status</div><div class="f"><svg class="ti" viewBox="0 0 16 16"><rect width="16" height="16" rx="2.2" fill="#9DA9B8"/><circle cx="7.950" cy="8.100" r="3.650" fill="none" stroke="#fff" stroke-width="1.300"/></svg><span class="k">EC-12</span><span class="pill todo">To Do</span><svg class="ua" viewBox="0 0 29 29"><circle cx="14.500" cy="14.500" r="14.500" fill="#E6E6E6"/><circle cx="11.600" cy="9.500" r="4.400" fill="#6E6E6E"/><path d="M4 22.700v-2.600c0-3 2-5 4.800-5h5.800c1.200 0 2.200.3 3 .9-2 1.500-2.900 4.200-1.900 6.700z" fill="#6E6E6E"/><g transform="translate(21 17.300)"><circle r="5.900" fill="#E6E6E6"/><g fill="#6E6E6E"><rect x="-1.300" y="-5.100" width="2.600" height="2.600" rx=".3" transform="rotate(0)"/><rect x="-1.300" y="-5.100" width="2.600" height="2.600" rx=".3" transform="rotate(60)"/><rect x="-1.300" y="-5.100" width="2.600" height="2.600" rx=".3" transform="rotate(120)"/><rect x="-1.300" y="-5.100" width="2.600" height="2.600" rx=".3" transform="rotate(180)"/><rect x="-1.300" y="-5.100" width="2.600" height="2.600" rx=".3" transform="rotate(240)"/><rect x="-1.300" y="-5.100" width="2.600" height="2.600" rx=".3" transform="rotate(300)"/><circle r="3.900"/></g><circle r="1.700" fill="#F2F2F2"/></g></svg></div></div>
<div class="card story" style="left:2272px;top:700px;background:#fff;border-left-color:#2E7D32"><div class="t">Coupon</div><div class="f"><svg class="ti" viewBox="0 0 16 16"><rect width="16" height="16" rx="2.2" fill="#9DA9B8"/><circle cx="7.950" cy="8.100" r="3.650" fill="none" stroke="#fff" stroke-width="1.300"/></svg><span class="k">EC-4</span><span class="pill todo">To Do</span><svg class="ua" viewBox="0 0 29 29"><circle cx="14.500" cy="14.500" r="14.500" fill="#E6E6E6"/><circle cx="11.600" cy="9.500" r="4.400" fill="#6E6E6E"/><path d="M4 22.700v-2.600c0-3 2-5 4.800-5h5.800c1.200 0 2.200.3 3 .9-2 1.500-2.900 4.200-1.900 6.700z" fill="#6E6E6E"/><g transform="translate(21 17.300)"><circle r="5.900" fill="#E6E6E6"/><g fill="#6E6E6E"><rect x="-1.300" y="-5.100" width="2.600" height="2.600" rx=".3" transform="rotate(0)"/><rect x="-1.300" y="-5.100" width="2.600" height="2.600" rx=".3" transform="rotate(60)"/><rect x="-1.300" y="-5.100" width="2.600" height="2.600" rx=".3" transform="rotate(120)"/><rect x="-1.300" y="-5.100" width="2.600" height="2.600" rx=".3" transform="rotate(180)"/><rect x="-1.300" y="-5.100" width="2.600" height="2.600" rx=".3" transform="rotate(240)"/><rect x="-1.300" y="-5.100" width="2.600" height="2.600" rx=".3" transform="rotate(300)"/><circle r="3.900"/></g><circle r="1.700" fill="#F2F2F2"/></g></svg></div></div>
<div class="card story" style="left:256px;top:876px;background:#FF8F73;border-left-color:#1283E6"><div class="t">Sort products</div><div class="f"><svg class="ti" viewBox="0 0 16 16"><rect width="16" height="16" rx="2.2" fill="#9DA9B8"/><circle cx="7.950" cy="8.100" r="3.650" fill="none" stroke="#fff" stroke-width="1.300"/></svg><span class="k">EC-55</span><span class="pill todo">To Do</span><svg class="ua" viewBox="0 0 29 29"><circle cx="14.500" cy="14.500" r="14.500" fill="#E6E6E6"/><circle cx="11.600" cy="9.500" r="4.400" fill="#6E6E6E"/><path d="M4 22.700v-2.600c0-3 2-5 4.800-5h5.800c1.200 0 2.200.3 3 .9-2 1.500-2.900 4.200-1.900 6.700z" fill="#6E6E6E"/><g transform="translate(21 17.300)"><circle r="5.900" fill="#E6E6E6"/><g fill="#6E6E6E"><rect x="-1.300" y="-5.100" width="2.600" height="2.600" rx=".3" transform="rotate(0)"/><rect x="-1.300" y="-5.100" width="2.600" height="2.600" rx=".3" transform="rotate(60)"/><rect x="-1.300" y="-5.100" width="2.600" height="2.600" rx=".3" transform="rotate(120)"/><rect x="-1.300" y="-5.100" width="2.600" height="2.600" rx=".3" transform="rotate(180)"/><rect x="-1.300" y="-5.100" width="2.600" height="2.600" rx=".3" transform="rotate(240)"/><rect x="-1.300" y="-5.100" width="2.600" height="2.600" rx=".3" transform="rotate(300)"/><circle r="3.900"/></g><circle r="1.700" fill="#F2F2F2"/></g></svg></div></div>
<div class="card story" style="left:592px;top:876px;background:#fff;border-left-color:#1283E6"><div class="t">View related products</div><div class="f"><svg class="ti" viewBox="0 0 16 16"><rect width="16" height="16" rx="2.2" fill="#9DA9B8"/><circle cx="7.950" cy="8.100" r="3.650" fill="none" stroke="#fff" stroke-width="1.300"/></svg><span class="k">EC-50</span><span class="pill todo">To Do</span><svg class="ua" viewBox="0 0 29 29"><circle cx="14.500" cy="14.500" r="14.500" fill="#E6E6E6"/><circle cx="11.600" cy="9.500" r="4.400" fill="#6E6E6E"/><path d="M4 22.700v-2.600c0-3 2-5 4.800-5h5.800c1.200 0 2.200.3 3 .9-2 1.500-2.900 4.200-1.900 6.700z" fill="#6E6E6E"/><g transform="translate(21 17.300)"><circle r="5.900" fill="#E6E6E6"/><g fill="#6E6E6E"><rect x="-1.300" y="-5.100" width="2.600" height="2.600" rx=".3" transform="rotate(0)"/><rect x="-1.300" y="-5.100" width="2.600" height="2.600" rx=".3" transform="rotate(60)"/><rect x="-1.300" y="-5.100" width="2.600" height="2.600" rx=".3" transform="rotate(120)"/><rect x="-1.300" y="-5.100" width="2.600" height="2.600" rx=".3" transform="rotate(180)"/><rect x="-1.300" y="-5.100" width="2.600" height="2.600" rx=".3" transform="rotate(240)"/><rect x="-1.300" y="-5.100" width="2.600" height="2.600" rx=".3" transform="rotate(300)"/><circle r="3.900"/></g><circle r="1.700" fill="#F2F2F2"/></g></svg></div></div>
<div class="card story" style="left:928px;top:876px;background:#fff;border-left-color:#1283E6"><div class="t">Select delivery time</div><div class="f"><svg class="ti" viewBox="0 0 16 16"><rect width="16" height="16" rx="2.2" fill="#9DA9B8"/><circle cx="7.950" cy="8.100" r="3.650" fill="none" stroke="#fff" stroke-width="1.300"/></svg><span class="k">EC-23</span><span class="pill todo">To Do</span><svg class="ua" viewBox="0 0 29 29"><circle cx="14.500" cy="14.500" r="14.500" fill="#E6E6E6"/><circle cx="11.600" cy="9.500" r="4.400" fill="#6E6E6E"/><path d="M4 22.700v-2.600c0-3 2-5 4.800-5h5.800c1.200 0 2.200.3 3 .9-2 1.500-2.900 4.200-1.900 6.700z" fill="#6E6E6E"/><g transform="translate(21 17.300)"><circle r="5.900" fill="#E6E6E6"/><g fill="#6E6E6E"><rect x="-1.300" y="-5.100" width="2.600" height="2.600" rx=".3" transform="rotate(0)"/><rect x="-1.300" y="-5.100" width="2.600" height="2.600" rx=".3" transform="rotate(60)"/><rect x="-1.300" y="-5.100" width="2.600" height="2.600" rx=".3" transform="rotate(120)"/><rect x="-1.300" y="-5.100" width="2.600" height="2.600" rx=".3" transform="rotate(180)"/><rect x="-1.300" y="-5.100" width="2.600" height="2.600" rx=".3" transform="rotate(240)"/><rect x="-1.300" y="-5.100" width="2.600" height="2.600" rx=".3" transform="rotate(300)"/><circle r="3.900"/></g><circle r="1.700" fill="#F2F2F2"/></g></svg></div></div>
<div class="card story" style="left:1264px;top:876px;background:#fff;border-left-color:#1283E6"><div class="t">View seller profile</div><div class="f"><svg class="ti" viewBox="0 0 16 16"><rect width="16" height="16" rx="2.2" fill="#9DA9B8"/><circle cx="7.950" cy="8.100" r="3.650" fill="none" stroke="#fff" stroke-width="1.300"/></svg><span class="k">EC-22</span><span class="pill todo">To Do</span><svg class="ua" viewBox="0 0 29 29"><circle cx="14.500" cy="14.500" r="14.500" fill="#E6E6E6"/><circle cx="11.600" cy="9.500" r="4.400" fill="#6E6E6E"/><path d="M4 22.700v-2.600c0-3 2-5 4.800-5h5.800c1.200 0 2.200.3 3 .9-2 1.500-2.900 4.200-1.900 6.700z" fill="#6E6E6E"/><g transform="translate(21 17.300)"><circle r="5.900" fill="#E6E6E6"/><g fill="#6E6E6E"><rect x="-1.300" y="-5.100" width="2.600" height="2.600" rx=".3" transform="rotate(0)"/><rect x="-1.300" y="-5.100" width="2.600" height="2.600" rx=".3" transform="rotate(60)"/><rect x="-1.300" y="-5.100" width="2.600" height="2.600" rx=".3" transform="rotate(120)"/><rect x="-1.300" y="-5.100" width="2.600" height="2.600" rx=".3" transform="rotate(180)"/><rect x="-1.300" y="-5.100" width="2.600" height="2.600" rx=".3" transform="rotate(240)"/><rect x="-1.300" y="-5.100" width="2.600" height="2.600" rx=".3" transform="rotate(300)"/><circle r="3.900"/></g><circle r="1.700" fill="#F2F2F2"/></g></svg></div></div>
<div class="card story" style="left:1600px;top:876px;background:#79E2F2;border-left-color:#1283E6"><div class="t">Add to cart</div><div class="f"><svg class="ti" viewBox="0 0 16 16"><rect width="16" height="16" rx="2.2" fill="#9DA9B8"/><circle cx="7.950" cy="8.100" r="3.650" fill="none" stroke="#fff" stroke-width="1.300"/></svg><span class="k">EC-48</span><span class="pill todo">To Do</span><svg class="ua" viewBox="0 0 29 29"><circle cx="14.500" cy="14.500" r="14.500" fill="#E6E6E6"/><circle cx="11.600" cy="9.500" r="4.400" fill="#6E6E6E"/><path d="M4 22.700v-2.600c0-3 2-5 4.800-5h5.800c1.200 0 2.200.3 3 .9-2 1.500-2.900 4.200-1.900 6.700z" fill="#6E6E6E"/><g transform="translate(21 17.300)"><circle r="5.900" fill="#E6E6E6"/><g fill="#6E6E6E"><rect x="-1.300" y="-5.100" width="2.600" height="2.600" rx=".3" transform="rotate(0)"/><rect x="-1.300" y="-5.100" width="2.600" height="2.600" rx=".3" transform="rotate(60)"/><rect x="-1.300" y="-5.100" width="2.600" height="2.600" rx=".3" transform="rotate(120)"/><rect x="-1.300" y="-5.100" width="2.600" height="2.600" rx=".3" transform="rotate(180)"/><rect x="-1.300" y="-5.100" width="2.600" height="2.600" rx=".3" transform="rotate(240)"/><rect x="-1.300" y="-5.100" width="2.600" height="2.600" rx=".3" transform="rotate(300)"/><circle r="3.900"/></g><circle r="1.700" fill="#F2F2F2"/></g></svg></div></div>
<div class="card story" style="left:1936px;top:876px;background:#fff;border-left-color:#0E9A86"><div class="t">Edit profile</div><div class="f"><svg class="ti" viewBox="0 0 16 16"><rect width="16" height="16" rx="2.2" fill="#9DA9B8"/><circle cx="7.950" cy="8.100" r="3.650" fill="none" stroke="#fff" stroke-width="1.300"/></svg><span class="k">EC-37</span><span class="pill todo">To Do</span><svg class="ua" viewBox="0 0 29 29"><circle cx="14.500" cy="14.500" r="14.500" fill="#E6E6E6"/><circle cx="11.600" cy="9.500" r="4.400" fill="#6E6E6E"/><path d="M4 22.700v-2.600c0-3 2-5 4.800-5h5.800c1.200 0 2.200.3 3 .9-2 1.500-2.900 4.200-1.900 6.700z" fill="#6E6E6E"/><g transform="translate(21 17.300)"><circle r="5.900" fill="#E6E6E6"/><g fill="#6E6E6E"><rect x="-1.300" y="-5.100" width="2.600" height="2.600" rx=".3" transform="rotate(0)"/><rect x="-1.300" y="-5.100" width="2.600" height="2.600" rx=".3" transform="rotate(60)"/><rect x="-1.300" y="-5.100" width="2.600" height="2.600" rx=".3" transform="rotate(120)"/><rect x="-1.300" y="-5.100" width="2.600" height="2.600" rx=".3" transform="rotate(180)"/><rect x="-1.300" y="-5.100" width="2.600" height="2.600" rx=".3" transform="rotate(240)"/><rect x="-1.300" y="-5.100" width="2.600" height="2.600" rx=".3" transform="rotate(300)"/><circle r="3.900"/></g><circle r="1.700" fill="#F2F2F2"/></g></svg></div></div>
<div class="card story" style="left:256px;top:1052px;background:#fff;border-left-color:#1283E6"><div class="t">Filter products</div><div class="f"><svg class="ti" viewBox="0 0 16 16"><rect width="16" height="16" rx="2.2" fill="#9DA9B8"/><circle cx="7.950" cy="8.100" r="3.650" fill="none" stroke="#fff" stroke-width="1.300"/></svg><span class="k">EC-21</span><span class="pill todo">To Do</span><svg class="ua" viewBox="0 0 29 29"><circle cx="14.500" cy="14.500" r="14.500" fill="#E6E6E6"/><circle cx="11.600" cy="9.500" r="4.400" fill="#6E6E6E"/><path d="M4 22.700v-2.600c0-3 2-5 4.800-5h5.800c1.200 0 2.200.3 3 .9-2 1.500-2.900 4.200-1.900 6.700z" fill="#6E6E6E"/><g transform="translate(21 17.300)"><circle r="5.900" fill="#E6E6E6"/><g fill="#6E6E6E"><rect x="-1.300" y="-5.100" width="2.600" height="2.600" rx=".3" transform="rotate(0)"/><rect x="-1.300" y="-5.100" width="2.600" height="2.600" rx=".3" transform="rotate(60)"/><rect x="-1.300" y="-5.100" width="2.600" height="2.600" rx=".3" transform="rotate(120)"/><rect x="-1.300" y="-5.100" width="2.600" height="2.600" rx=".3" transform="rotate(180)"/><rect x="-1.300" y="-5.100" width="2.600" height="2.600" rx=".3" transform="rotate(240)"/><rect x="-1.300" y="-5.100" width="2.600" height="2.600" rx=".3" transform="rotate(300)"/><circle r="3.900"/></g><circle r="1.700" fill="#F2F2F2"/></g></svg></div></div>
<div class="card story" style="left:928px;top:1052px;background:#fff;border-left-color:#1283E6"><div class="t">Payment</div><div class="f"><svg class="ti" viewBox="0 0 16 16"><rect width="16" height="16" rx="2.2" fill="#9DA9B8"/><circle cx="7.950" cy="8.100" r="3.650" fill="none" stroke="#fff" stroke-width="1.300"/></svg><span class="k">EC-24</span><span class="pill todo">To Do</span><svg class="ua" viewBox="0 0 29 29"><circle cx="14.500" cy="14.500" r="14.500" fill="#E6E6E6"/><circle cx="11.600" cy="9.500" r="4.400" fill="#6E6E6E"/><path d="M4 22.700v-2.600c0-3 2-5 4.800-5h5.800c1.200 0 2.200.3 3 .9-2 1.500-2.900 4.200-1.900 6.700z" fill="#6E6E6E"/><g transform="translate(21 17.300)"><circle r="5.900" fill="#E6E6E6"/><g fill="#6E6E6E"><rect x="-1.300" y="-5.100" width="2.600" height="2.600" rx=".3" transform="rotate(0)"/><rect x="-1.300" y="-5.100" width="2.600" height="2.600" rx=".3" transform="rotate(60)"/><rect x="-1.300" y="-5.100" width="2.600" height="2.600" rx=".3" transform="rotate(120)"/><rect x="-1.300" y="-5.100" width="2.600" height="2.600" rx=".3" transform="rotate(180)"/><rect x="-1.300" y="-5.100" width="2.600" height="2.600" rx=".3" transform="rotate(240)"/><rect x="-1.300" y="-5.100" width="2.600" height="2.600" rx=".3" transform="rotate(300)"/><circle r="3.900"/></g><circle r="1.700" fill="#F2F2F2"/></g></svg></div></div>
<div class="hdr"></div>
<div class="banner"><span>DATA EXPORTING</span></div>
<div class="hx" style="left:1390px;top:20px">New GUI</div>
<div class="toggle"><i></i><svg class="abs" style="left:9px;top:9px" width="18" height="14" viewBox="0 0 18 14"><path d="M2.500 6.800 6.800 11 15.500 2.800" fill="none" stroke="#fff" stroke-width="3.400" stroke-linecap="round" stroke-linejoin="round"/></svg></div>
<svg class="abs" style="left:1669px;top:20px" width="30" height="30" viewBox="0 0 30 30"><circle cx="12.500" cy="12.500" r="9.800" fill="none" stroke="#4F5E79" stroke-width="3"/><path d="M19.800 19.800 27 27" stroke="#4F5E79" stroke-width="3.200" stroke-linecap="round"/></svg>
<div class="hx" style="left:1716px;top:20px">Search</div>
<svg class="abs" style="left:1871px;top:21px" width="30" height="27" viewBox="0 0 30 27"><g fill="#4F5E79"><circle cx="7.200" cy="4.600" r="4.200"/><circle cx="22.800" cy="4.600" r="4.200"/><path d="M0 14.500a4 4 0 0 1 4-4h4.600a6.800 6.800 0 0 0-1.200 4.300c-2 1.200-2.800 3-2.800 5.200v1.800H2.500A2.500 2.500 0 0 1 0 19.300zM30 14.500a4 4 0 0 0-4-4h-4.600a6.800 6.800 0 0 1 1.200 4.300c2 1.200 2.800 3 2.800 5.200v1.800h2.100a2.500 2.500 0 0 0 2.500-2.500z"/><circle cx="15" cy="10" r="4.900"/><path d="M6.300 21a5 5 0 0 1 5-5h7.400a5 5 0 0 1 5 5v3.400a2.600 2.600 0 0 1-2.600 2.600H8.900a2.600 2.600 0 0 1-2.600-2.600z"/></g></svg>
<div class="hx" style="left:1918.500px;top:20px">Personas</div>
<svg class="abs" style="left:2102.800px;top:20px" width="30.400" height="30" viewBox="0 0 31 30" preserveAspectRatio="none"><rect x="1.600" y="1.600" width="27.800" height="16.500" rx="2.500" fill="none" stroke="#505F79" stroke-width="3.200"/><path d="M11.500 9.200 14.300 12 19.800 6.600" fill="none" stroke="#505F79" stroke-width="2.800" stroke-linecap="round" stroke-linejoin="round"/><path d="M1.800 21.800h27.400l-1.200 2.700H3zM3.600 26.900h23.800l-1.600 3.100H5.200z" fill="#505F79"/></svg>
<div class="btn-share"><svg class="abs" style="left:22px;top:14px" width="28" height="36" viewBox="0 0 28 36"><path d="M5.800 15.900H5.400a1.800 1.800 0 0 0-1.800 1.800v12.100a1.800 1.800 0 0 0 1.800 1.800h17.200a1.800 1.800 0 0 0 1.800-1.800V17.700a1.800 1.800 0 0 0-1.800-1.800h-.4" fill="none" stroke="#fff" stroke-width="3.600" stroke-linecap="round" stroke-linejoin="round"/><path d="M14 24.700V4.500M9.100 9.200 14 4.300l4.900 4.900" fill="none" stroke="#fff" stroke-width="3.600" stroke-linecap="round" stroke-linejoin="round"/></svg></div>
<div class="btn-more"><svg class="abs" style="left:16.800px;top:27px" width="26" height="8" viewBox="0 0 26 8"><circle cx="3.500" cy="4" r="3" fill="#505F79"/><circle cx="12.700" cy="4" r="3" fill="#505F79"/><circle cx="21.900" cy="4" r="3" fill="#505F79"/></svg></div>
<div class="pop"></div>
<div class="red"></div>
<div class="pop-h">Export file</div>
<div class="prog-bar"></div>
<div class="cb" style="left:1618px"><svg class="abs" style="left:0;top:0" width="28" height="28" viewBox="0 0 28 28"><path d="M7.800 14.200 12.300 18.600 20.600 9.800" fill="none" stroke="#fff" stroke-width="3.600" stroke-linecap="round" stroke-linejoin="round"/></svg></div>
<div class="cbl" style="left:1664px">Backlog</div>
<div class="cb" style="left:1782px"><svg class="abs" style="left:0;top:0" width="28" height="28" viewBox="0 0 28 28"><path d="M7.800 14.200 12.300 18.600 20.600 9.800" fill="none" stroke="#fff" stroke-width="3.600" stroke-linecap="round" stroke-linejoin="round"/></svg></div>
<div class="cbl" style="left:1827.500px">Orphan cards</div>
<div class="png"><svg class="abs" style="left:28px;top:20px" width="24" height="24" viewBox="0 0 25 25"><rect x="1.400" y="1.400" width="22.200" height="22.200" rx="3" fill="none" stroke="#fff" stroke-width="2.800"/><circle cx="8.300" cy="8.600" r="2.500" fill="#fff"/><path d="M4.800 19.600l4.400-4.600 2.600 2.400 4.400-5.400 4.200 4.200v3.400z" fill="#fff"/></svg><span>PNG</span></div>
</div></body></html>
